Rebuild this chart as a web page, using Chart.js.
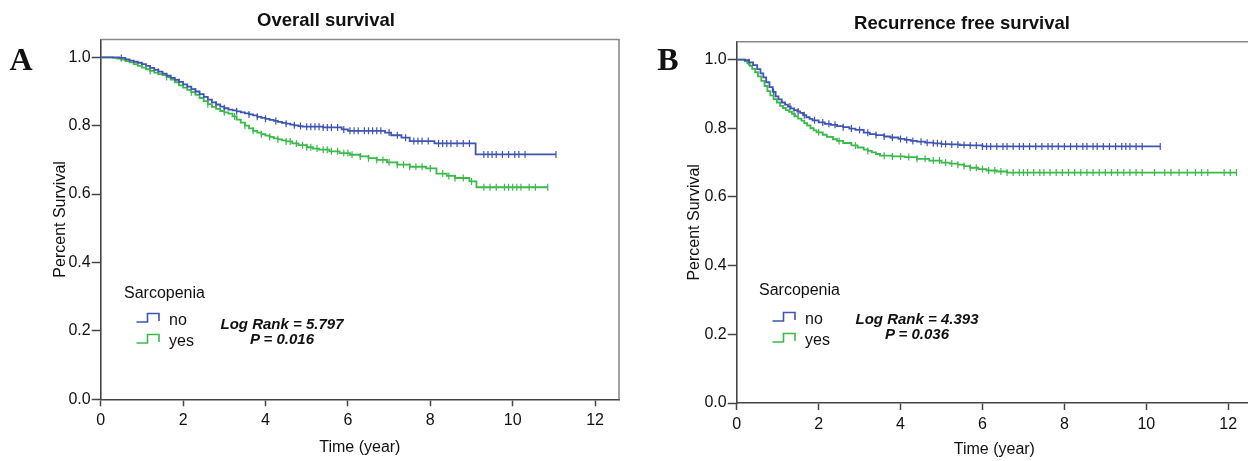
<!DOCTYPE html>
<html lang="en">
<head>
  <meta charset="UTF-8">
  <title>Sarcopenia survival curves</title>
  <script src="https://cdn.jsdelivr.net/npm/chart.js"></script>
  <style>
    body {
      margin: 0;
      width: 1248px;
      height: 461px;
      overflow: hidden;
      position: relative;
      background: #fff;
      font-family: "Liberation Sans", Arial, sans-serif;
      color: #111;
    }
    canvas { position: absolute; top: 0; }
    #chartA { left: 0; }
    #chartB { left: 628px; }
    .t {
      position: absolute;
      white-space: nowrap;
      line-height: 1;
      transform: translate(0, -50%);
      font-size: 16px;
    }
    .c { transform: translate(-50%, -50%); }
    .panel {
      font-family: "Liberation Serif", "DejaVu Serif", serif;
      font-weight: bold;
      font-size: 32px;
    }
    .stat { font-weight: bold; font-style: italic; font-size: 15px; }
    .icon { position: absolute; }
  </style>
</head>
<body>

<canvas id="chartA" width="652" height="461"></canvas>
<canvas id="chartB" width="668" height="461"></canvas>

<div class="t c panel" style="left:21px; top:59px;">A</div>
<div class="t c panel" style="left:668px; top:59px;">B</div>

<!-- legend + log rank, panel A -->
<div class="t" style="left:124px; top:293px;">Sarcopenia</div>
<svg class="icon" style="left:136px; top:312px;" width="26" height="12"><polyline points="0.5,10 11.5,10 11.5,1.5 23,1.5 23,9" fill="none" stroke="#4054b2" stroke-width="1.6"/></svg>
<div class="t" style="left:169px; top:320px;">no</div>
<svg class="icon" style="left:136px; top:333px;" width="26" height="12"><polyline points="0.5,10 11.5,10 11.5,1.5 23,1.5 23,9" fill="none" stroke="#3cb94b" stroke-width="1.6"/></svg>
<div class="t" style="left:169px; top:341px;">yes</div>
<div class="t c stat" style="left:282px; top:323px;">Log Rank = 5.797</div>
<div class="t c stat" style="left:282px; top:338px;">P = 0.016</div>

<!-- legend + log rank, panel B -->
<div class="t" style="left:759px; top:290px;">Sarcopenia</div>
<svg class="icon" style="left:772px; top:311px;" width="26" height="12"><polyline points="0.5,10 11.5,10 11.5,1.5 23,1.5 23,9" fill="none" stroke="#4054b2" stroke-width="1.6"/></svg>
<div class="t" style="left:805px; top:319px;">no</div>
<svg class="icon" style="left:772px; top:332px;" width="26" height="12"><polyline points="0.5,10 11.5,10 11.5,1.5 23,1.5 23,9" fill="none" stroke="#3cb94b" stroke-width="1.6"/></svg>
<div class="t" style="left:805px; top:340px;">yes</div>
<div class="t c stat" style="left:917px; top:318px;">Log Rank = 4.393</div>
<div class="t c stat" style="left:917px; top:333px;">P = 0.036</div>

<script>
  // axis ticks
  const yearTicks = [0, 2, 4, 6, 8, 10, 12];
  const survTicks = [0, 0.2, 0.4, 0.6, 0.8, 1.0];

  // Overall survival, sarcopenia = no
  const osNoTime = [0, 0.45, 0.6, 0.7, 0.8, 0.9, 1.0, 1.1, 1.2, 1.3, 1.4, 1.5, 1.6, 1.7, 1.8, 1.9, 2.0, 2.1, 2.2, 2.3, 2.4, 2.5, 2.6, 2.7, 2.8, 2.9, 3.0, 3.1, 3.2, 3.3, 3.4, 3.5, 3.6, 3.7, 3.8, 3.9, 4.0, 4.1, 4.2, 4.3, 4.4, 4.5, 4.6, 4.7, 4.8, 4.9, 5.4, 5.85, 6.0, 6.9, 7.05, 7.3, 7.5, 8.1, 9.1, 11.05];
  const osNoSurv = [1.0, 0.998, 0.994, 0.99, 0.987, 0.984, 0.98, 0.975, 0.969, 0.963, 0.958, 0.952, 0.946, 0.94, 0.934, 0.928, 0.921, 0.914, 0.907, 0.9, 0.892, 0.884, 0.876, 0.868, 0.862, 0.856, 0.851, 0.847, 0.845, 0.842, 0.839, 0.836, 0.833, 0.83, 0.826, 0.823, 0.82, 0.817, 0.814, 0.811, 0.808, 0.806, 0.803, 0.801, 0.799, 0.797, 0.795, 0.789, 0.785, 0.78, 0.772, 0.765, 0.755, 0.748, 0.716, 0.716];
  const osNoCensor = [0.5, 1.4, 1.9, 2.3, 2.8, 3.0, 3.3, 3.6, 3.8, 4.0, 4.25, 4.5, 4.7, 4.85, 5.0, 5.1, 5.2, 5.3, 5.4, 5.5, 5.6, 5.75, 5.9, 6.05, 6.15, 6.25, 6.4, 6.5, 6.6, 6.7, 6.8, 7.0, 7.2, 7.4, 7.6, 7.7, 7.8, 7.95, 8.2, 8.3, 8.4, 8.5, 8.65, 8.8, 8.95, 9.3, 9.4, 9.5, 9.6, 9.75, 9.9, 10.05, 10.15, 10.3, 11.05];

  // Overall survival, sarcopenia = yes
  const osYesTime = [0, 0.3, 0.4, 0.5, 0.6, 0.7, 0.8, 0.9, 1.0, 1.1, 1.2, 1.3, 1.4, 1.5, 1.6, 1.7, 1.8, 1.9, 2.0, 2.1, 2.2, 2.3, 2.4, 2.5, 2.6, 2.7, 2.8, 2.9, 3.0, 3.1, 3.2, 3.3, 3.4, 3.5, 3.6, 3.7, 3.8, 3.9, 4.0, 4.1, 4.2, 4.3, 4.4, 4.5, 4.65, 4.8, 5.0, 5.15, 5.3, 5.55, 5.8, 6.05, 6.3, 6.5, 6.7, 6.95, 7.2, 7.5, 7.9, 8.15, 8.4, 8.6, 8.95, 9.12, 10.85];
  const osYesSurv = [1.0, 0.998, 0.996, 0.993, 0.989, 0.985, 0.98, 0.975, 0.97, 0.965, 0.96, 0.955, 0.951, 0.948, 0.942, 0.935, 0.927, 0.918, 0.911, 0.905, 0.898, 0.89, 0.881, 0.872, 0.863, 0.855, 0.849, 0.843, 0.839, 0.835, 0.827, 0.818, 0.809, 0.8, 0.792, 0.785, 0.78, 0.775, 0.771, 0.767, 0.763, 0.76, 0.757, 0.754, 0.748, 0.743, 0.737, 0.733, 0.73, 0.725, 0.72, 0.715, 0.71, 0.705, 0.7, 0.693, 0.686, 0.68, 0.675, 0.66, 0.653, 0.647, 0.637, 0.62, 0.62];
  const osYesCensor = [1.2, 1.6, 2.2, 2.6, 3.0, 3.25, 3.5, 3.7, 3.9, 4.1, 4.3, 4.5, 4.6, 4.75, 4.9, 5.0, 5.1, 5.25, 5.4, 5.5, 5.6, 5.75, 5.9, 6.0, 6.1, 6.3, 6.5, 6.7, 6.85, 7.0, 7.2, 7.35, 7.5, 7.65, 7.8, 8.0, 8.3, 8.45, 8.6, 8.8, 9.0, 9.3, 9.45, 9.6, 9.8, 9.9, 10.0, 10.1, 10.2, 10.4, 10.55, 10.85];

  // Recurrence free survival, sarcopenia = no
  const rfsNoTime = [0, 0.2, 0.3, 0.4, 0.5, 0.58, 0.65, 0.72, 0.8, 0.88, 0.95, 1.02, 1.1, 1.18, 1.25, 1.32, 1.4, 1.48, 1.55, 1.62, 1.7, 1.78, 1.85, 2.0, 2.15, 2.3, 2.45, 2.6, 2.75, 2.9, 3.1, 3.25, 3.4, 3.6, 3.75, 3.95, 4.1, 4.25, 4.4, 4.6, 4.8, 5.0, 5.2, 5.45, 5.7, 6.0, 10.34];
  const rfsNoSurv = [1.0, 0.998, 0.992, 0.984, 0.972, 0.96, 0.948, 0.934, 0.92, 0.906, 0.893, 0.884, 0.875, 0.869, 0.863, 0.858, 0.853, 0.849, 0.845, 0.838, 0.832, 0.827, 0.823, 0.817, 0.813, 0.81, 0.806, 0.803, 0.799, 0.795, 0.787, 0.783, 0.78, 0.776, 0.773, 0.769, 0.766, 0.763, 0.761, 0.758, 0.756, 0.754, 0.753, 0.751, 0.75, 0.747, 0.747];
  const rfsNoCensor = [0.3, 0.9, 1.3, 1.5, 1.65, 1.9, 2.1, 2.25, 2.4, 2.6, 2.8, 3.0, 3.2, 3.4, 3.6, 3.8, 4.0, 4.15, 4.3, 4.5, 4.65, 4.8, 4.9, 5.0, 5.1, 5.25, 5.4, 5.55, 5.7, 5.85, 6.0, 6.1, 6.2, 6.35, 6.5, 6.6, 6.75, 6.9, 7.0, 7.15, 7.3, 7.45, 7.6, 7.7, 7.85, 8.0, 8.15, 8.3, 8.45, 8.55, 8.7, 8.8, 8.95, 9.1, 9.25, 9.4, 9.5, 9.6, 9.75, 9.9, 10.34];

  // Recurrence free survival, sarcopenia = yes
  const rfsYesTime = [0, 0.2, 0.26, 0.32, 0.38, 0.45, 0.52, 0.6, 0.68, 0.75, 0.82, 0.9, 0.98, 1.06, 1.13, 1.2, 1.28, 1.35, 1.42, 1.5, 1.58, 1.65, 1.72, 1.8, 1.88, 1.95, 2.1, 2.2, 2.35, 2.45, 2.6, 2.8, 2.95, 3.1, 3.2, 3.3, 3.4, 3.5, 3.8, 4.1, 4.4, 4.7, 5.0, 5.2, 5.4, 5.55, 5.7, 5.9, 6.1, 6.35, 6.6, 12.2];
  const rfsYesSurv = [1.0, 0.995, 0.989, 0.982, 0.973, 0.963, 0.951, 0.938, 0.923, 0.908, 0.896, 0.885, 0.875, 0.865, 0.859, 0.853, 0.848, 0.842, 0.835, 0.828, 0.822, 0.815, 0.808, 0.8, 0.794, 0.788, 0.781, 0.775, 0.768, 0.763, 0.757, 0.75, 0.744, 0.738, 0.734, 0.73, 0.725, 0.72, 0.718, 0.716, 0.711, 0.706, 0.7, 0.697, 0.694, 0.69, 0.685, 0.681, 0.677, 0.674, 0.671, 0.671];
  const rfsYesCensor = [1.4, 2.0, 2.5, 2.9, 3.2, 3.6, 3.8, 4.0, 4.2, 4.4, 4.6, 4.8, 4.95, 5.1, 5.25, 5.4, 5.55, 5.7, 5.85, 6.0, 6.15, 6.3, 6.45, 6.6, 6.75, 6.9, 7.0, 7.1, 7.25, 7.4, 7.5, 7.65, 7.8, 7.95, 8.1, 8.25, 8.4, 8.55, 8.7, 8.85, 9.0, 9.15, 9.3, 9.45, 9.6, 9.75, 9.9, 10.2, 10.45, 10.6, 10.8, 11.0, 11.2, 11.35, 11.5, 11.9, 12.05, 12.2];

  const BLUE = '#4054b2';
  const GREEN = '#3cb94b';
  const FONT = '"Liberation Sans", Arial, sans-serif';

  function steps(times, surv) {
    return times.map((t, i) => ({ x: t, y: surv[i] }));
  }

  // censored cases sit on the curve at the level in force at that time
  function censored(times, surv, cens) {
    return cens.map(t => {
      let lvl = surv[0];
      for (let i = 0; i < times.length; i++) {
        if (times[i] <= t) lvl = surv[i];
      }
      return { x: t, y: lvl };
    });
  }

  const framePlugin = {
    id: 'frame',
    beforeDatasetsDraw(chart) {
      const { ctx, chartArea: a } = chart;
      ctx.save();
      ctx.strokeStyle = '#8a8a8a';
      ctx.lineWidth = 1.6;
      ctx.beginPath();
      ctx.moveTo(a.left, a.top);
      ctx.lineTo(a.right, a.top);
      ctx.lineTo(a.right, a.bottom);
      ctx.stroke();
      ctx.restore();
    }
  };

  function makeChart(id, o) {
    const lineDs = (label, data, color) => ({
      label, data, borderColor: color, borderWidth: 1.8,
      stepped: true, pointRadius: 0, tension: 0, fill: false
    });
    const censDs = (label, data, color) => ({
      label, data, borderColor: color, backgroundColor: color,
      showLine: false, pointStyle: 'line', pointRotation: 90,
      pointRadius: 3.5, pointBorderWidth: 1.2
    });

    new Chart(document.getElementById(id), {
      type: 'line',
      data: {
        datasets: [
          lineDs('no', steps(o.noTime, o.noSurv), BLUE),
          lineDs('yes', steps(o.yesTime, o.yesSurv), GREEN),
          censDs('no censored', censored(o.noTime, o.noSurv, o.noCens), BLUE),
          censDs('yes censored', censored(o.yesTime, o.yesSurv, o.yesCens), GREEN)
        ]
      },
      options: {
        responsive: false,
        animation: false,
        events: [],
        layout: { padding: 0 },
        plugins: {
          legend: { display: false },
          tooltip: { enabled: false },
          title: {
            display: true,
            text: o.title,
            color: '#111',
            font: { family: FONT, size: 18.5, weight: 'bold' },
            padding: o.titlePad
          }
        },
        scales: {
          x: {
            type: 'linear',
            min: 0,
            max: 12.58,
            afterFit: s => { s.height = o.xHeight; },
            afterBuildTicks: s => { s.ticks = yearTicks.map(v => ({ value: v })); },
            ticks: { color: '#111', padding: 5, font: { family: FONT, size: 16 }, callback: v => v },
            grid: { drawOnChartArea: false, drawTicks: true, tickLength: 7, tickColor: '#444', tickWidth: 1.5 },
            border: { display: true, color: '#444', width: 1.6 },
            title: { display: true, text: 'Time (year)', color: '#111', font: { family: FONT, size: 16 }, padding: { top: 0, bottom: o.xTitlePad } }
          },
          y: {
            min: 0,
            max: 1.052,
            afterFit: s => { s.width = o.yWidth; },
            afterBuildTicks: s => { s.ticks = survTicks.map(v => ({ value: v })); },
            ticks: { color: '#111', padding: 1, font: { family: FONT, size: 16 }, callback: v => v.toFixed(1) },
            grid: { drawOnChartArea: false, drawTicks: true, tickLength: 9, tickColor: '#444', tickWidth: 1.5 },
            border: { display: true, color: '#444', width: 1.6 },
            title: { display: true, text: 'Percent Survival', color: '#111', font: { family: FONT, size: 16 }, padding: { top: o.yTitlePad, bottom: 0 } }
          },
          // empty spacer on the right so the title centres on the whole figure
          spacer: {
            type: 'linear',
            axis: 'y',
            position: 'right',
            min: 0,
            max: 1,
            afterFit: s => { s.width = o.padRight; },
            ticks: { display: false },
            grid: { display: false },
            border: { display: false }
          }
        }
      },
      plugins: [framePlugin]
    });
  }

  makeChart('chartA', {
    title: 'Overall survival',
    titlePad: { top: 9.5, bottom: 7.8 },
    padRight: 33,
    yWidth: 100.7,
    xHeight: 61.7,
    xTitlePad: 3.4,
    yTitlePad: 51,
    noTime: osNoTime, noSurv: osNoSurv, noCens: osNoCensor,
    yesTime: osYesTime, yesSurv: osYesSurv, yesCens: osYesCensor
  });

  makeChart('chartB', {
    title: 'Recurrence free survival',
    titlePad: { top: 12.7, bottom: 6.8 },
    padRight: 44,
    yWidth: 108.7,
    xHeight: 58,
    xTitlePad: 1.4,
    yTitlePad: 57,
    noTime: rfsNoTime, noSurv: rfsNoSurv, noCens: rfsNoCensor,
    yesTime: rfsYesTime, yesSurv: rfsYesSurv, yesCens: rfsYesCensor
  });
</script>
</body>
</html>
